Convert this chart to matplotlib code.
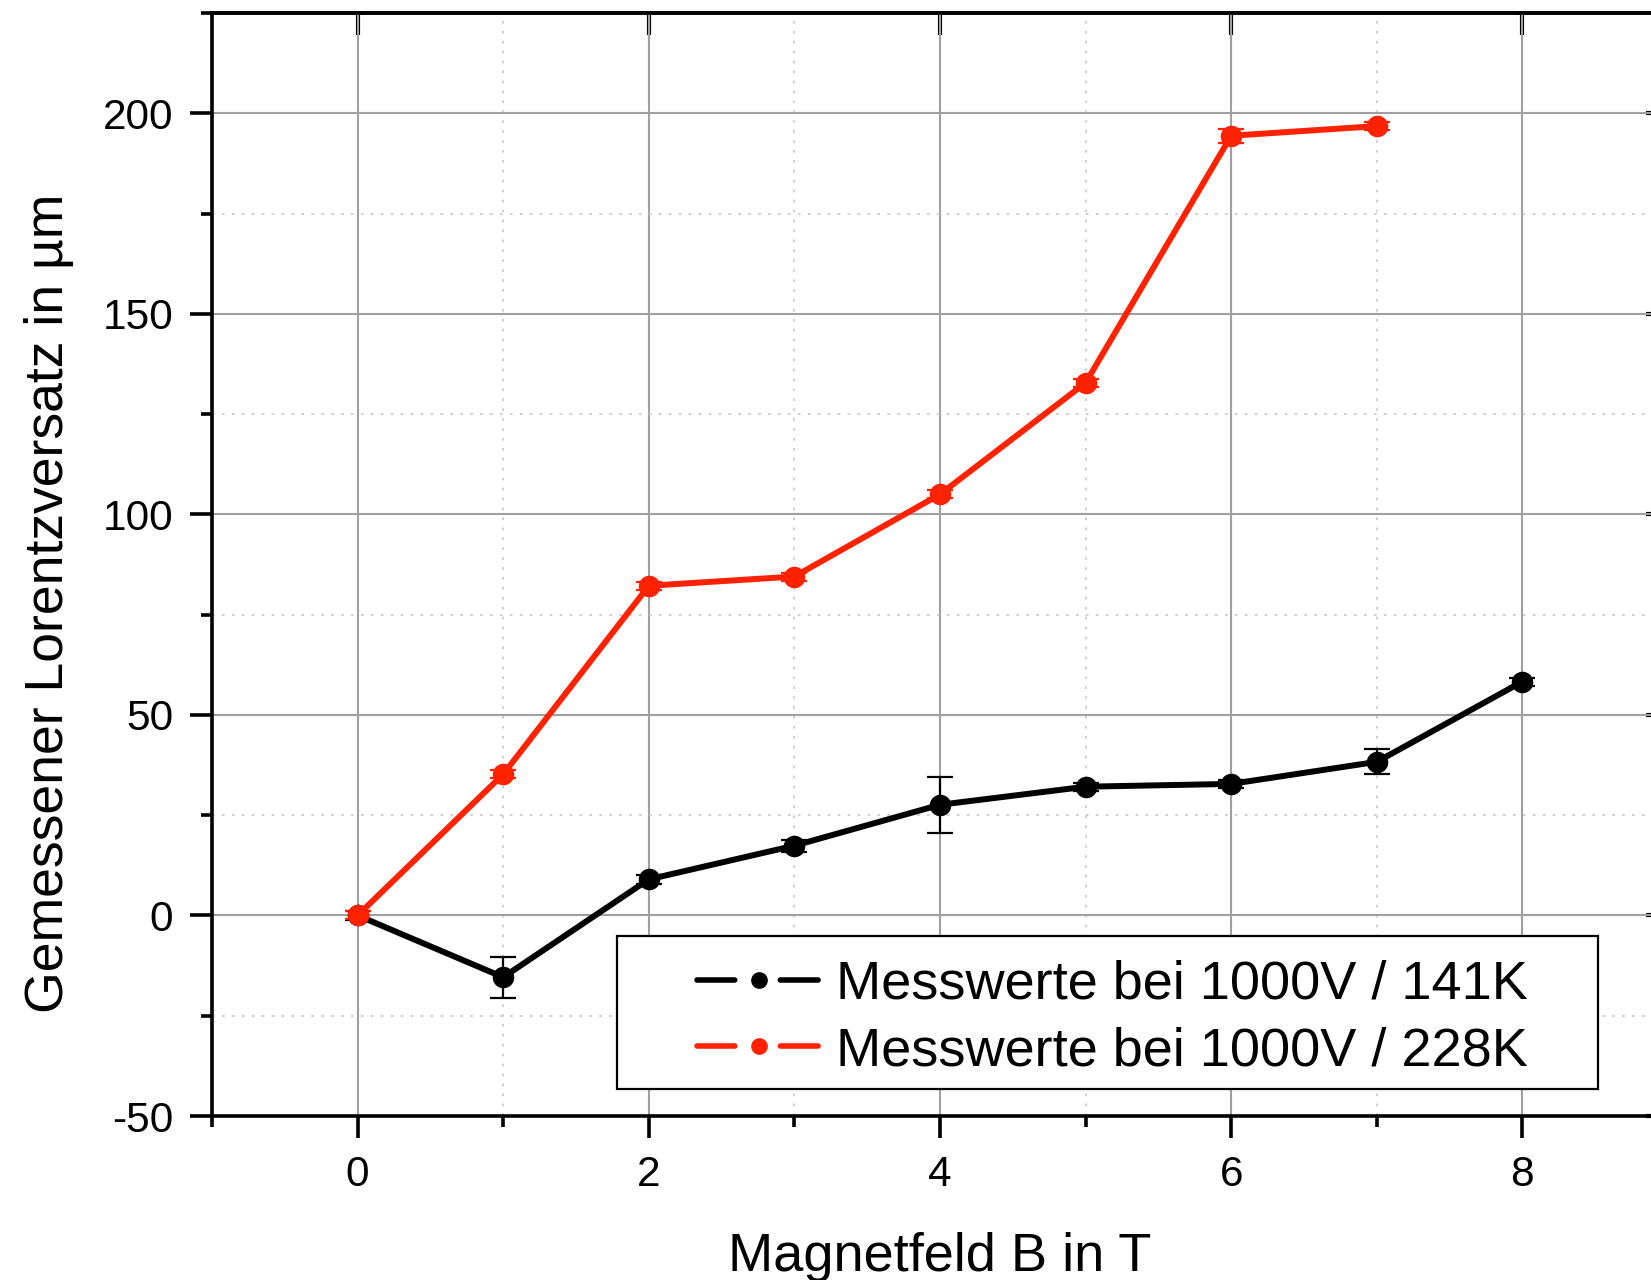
import matplotlib
matplotlib.use('Agg')
import matplotlib.pyplot as plt
from matplotlib.lines import Line2D
from matplotlib.patches import Rectangle
from matplotlib.ticker import MultipleLocator
import numpy as np

plt.rcParams['font.family'] = ['Liberation Sans', 'DejaVu Sans']
plt.rcParams['axes.unicode_minus'] = False

# Messwerte 141K
B_141 = [0, 1, 2, 3, 4, 5, 6, 7, 8]
d_141 = [0, -15.4, 9.0, 17.4, 27.6, 32.1, 32.8, 38.3, 58.3]
e_141 = [1.2, 5.1, 1.2, 1.5, 7.0, 1.0, 1.0, 3.1, 1.0]

# Messwerte 228K
B_228 = [0, 1, 2, 3, 4, 5, 6, 7]
d_228 = [0, 35.2, 82.2, 84.5, 105.0, 132.8, 194.4, 196.8]
e_228 = [1.0, 1.0, 1.0, 1.0, 1.0, 1.0, 1.8, 1.0]

labels = ['Messwerte bei 1000V / 141K', 'Messwerte bei 1000V / 228K']
colors = ['black', '#ff2200']

fig = plt.figure(figsize=(16.51, 12.8), dpi=100)
ax = fig.add_axes([212/1651, 1 - 1116/1280, 1456/1651, 1103/1280])

for x, y, e, c in [(B_141, d_141, e_141, colors[0]), (B_228, d_228, e_228, colors[1])]:
    ax.errorbar(x, y, yerr=e, color=c, lw=4.3, marker='o', ms=14.5,
                elinewidth=1.6, capsize=9.5, capthick=1.6, zorder=3)

ax.set_xlim(-1, 9)
ax.set_ylim(-50, 225)
ax.xaxis.set_major_locator(MultipleLocator(2))
ax.xaxis.set_minor_locator(MultipleLocator(1))
ax.yaxis.set_major_locator(MultipleLocator(50))
ax.yaxis.set_minor_locator(MultipleLocator(25))

ax.grid(which='major', color='#a0a0a0', lw=1.5, zorder=0)
ax.grid(which='minor', color='#cccccc', lw=1.3, ls=(0, (1.5, 4)), zorder=0)
ax.set_axisbelow(True)

for s in ax.spines.values():
    s.set_linewidth(2.6)

ax.tick_params(which='major', direction='out', length=16, width=2.6,
               labelsize=30.5, pad=12, top=False, right=False)
ax.tick_params(which='minor', direction='out', length=8, width=2.6,
               top=False, right=False)

# Origin-style inner ticks on top and right
ax_t = ax.secondary_xaxis('top')
ax_t.xaxis.set_major_locator(MultipleLocator(2))
ax_t.tick_params(direction='in', length=16, width=3, labeltop=False)
ax_t.spines['top'].set_linewidth(2.6)
ax_r = ax.secondary_yaxis('right')
ax_r.yaxis.set_major_locator(MultipleLocator(50))
ax_r.tick_params(direction='in', length=16, width=3, labelright=False)
ax_r.spines['right'].set_linewidth(2.6)

ax.set_xlabel('Magnetfeld B in T', fontsize=39)
ax.set_ylabel('Gemessener Lorentzversatz in µm', fontsize=38.5)
ax.xaxis.set_label_coords(0.5, -0.105)
ax.yaxis.set_label_coords(-0.095, 0.465)

# legend frame drawn by hand (Origin has wide side padding)
ax.add_patch(Rectangle((0.278, 0.0245), 0.952 - 0.278, 0.163 - 0.0245,
                       transform=ax.transAxes, facecolor='white',
                       edgecolor='black', lw=1.6, zorder=4))
handles = [Line2D([], [], color=c, lw=4, marker='o', ms=11,
                  ls=(0, (6.8, 8.2)), dash_capstyle='round') for c in colors]
leg = ax.legend(handles, labels, loc='center left', bbox_to_anchor=(0.333, 0.0888),
                borderaxespad=0, borderpad=0, fontsize=39, handlelength=2.3,
                handletextpad=0.26, labelspacing=0.3, frameon=False, numpoints=1)
leg.set_zorder(5)

fig.savefig('out.png', dpi=100)
